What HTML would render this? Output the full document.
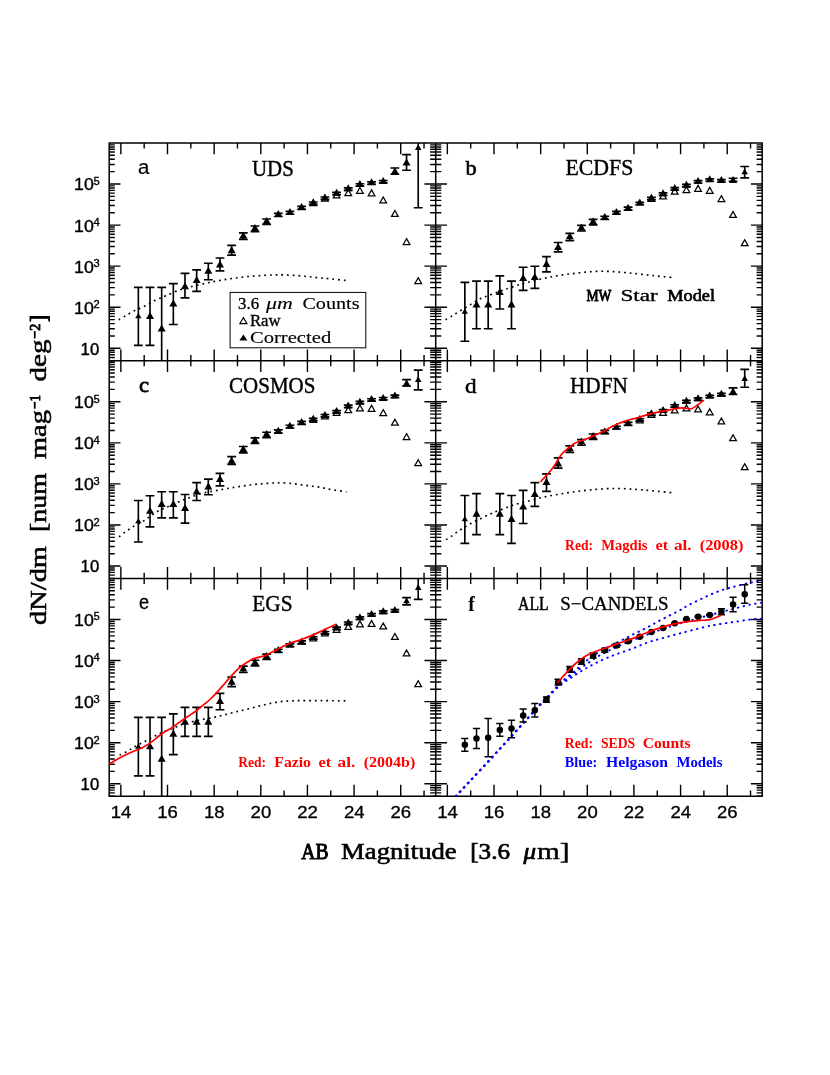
<!DOCTYPE html>
<html><head><meta charset="utf-8"><title>Number counts</title>
<style>html,body{margin:0;padding:0;background:#fff}svg{display:block;will-change:transform}</style></head>
<body>
<svg width="830" height="1075" viewBox="0 0 830 1075">
<rect width="830" height="1075" fill="#fff"/>
<path d="M120.86 142.95v11.3 M120.86 360.68v-11.3 M144.18 142.95v5.6 M144.18 360.68v-5.6 M167.5 142.95v11.3 M167.5 360.68v-11.3 M190.82 142.95v5.6 M190.82 360.68v-5.6 M214.15 142.95v11.3 M214.15 360.68v-11.3 M237.47 142.95v5.6 M237.47 360.68v-5.6 M260.79 142.95v11.3 M260.79 360.68v-11.3 M284.11 142.95v5.6 M284.11 360.68v-5.6 M307.43 142.95v11.3 M307.43 360.68v-11.3 M330.75 142.95v5.6 M330.75 360.68v-5.6 M354.08 142.95v11.3 M354.08 360.68v-11.3 M377.4 142.95v5.6 M377.4 360.68v-5.6 M400.72 142.95v11.3 M400.72 360.68v-11.3 M424.04 142.95v5.6 M424.04 360.68v-5.6 M109.2 360.68h5.6 M435.7 360.68h-5.6 M109.2 357.43h5.6 M435.7 357.43h-5.6 M109.2 354.68h5.6 M435.7 354.68h-5.6 M109.2 352.3h5.6 M435.7 352.3h-5.6 M109.2 350.2h5.6 M435.7 350.2h-5.6 M109.2 348.32h11.3 M435.7 348.32h-11.3 M109.2 335.95h5.6 M435.7 335.95h-5.6 M109.2 328.72h5.6 M435.7 328.72h-5.6 M109.2 323.59h5.6 M435.7 323.59h-5.6 M109.2 319.61h5.6 M435.7 319.61h-5.6 M109.2 316.36h5.6 M435.7 316.36h-5.6 M109.2 313.61h5.6 M435.7 313.61h-5.6 M109.2 311.23h5.6 M435.7 311.23h-5.6 M109.2 309.12h5.6 M435.7 309.12h-5.6 M109.2 307.25h11.3 M435.7 307.25h-11.3 M109.2 294.88h5.6 M435.7 294.88h-5.6 M109.2 287.65h5.6 M435.7 287.65h-5.6 M109.2 282.52h5.6 M435.7 282.52h-5.6 M109.2 278.54h5.6 M435.7 278.54h-5.6 M109.2 275.28h5.6 M435.7 275.28h-5.6 M109.2 272.53h5.6 M435.7 272.53h-5.6 M109.2 270.15h5.6 M435.7 270.15h-5.6 M109.2 268.05h5.6 M435.7 268.05h-5.6 M109.2 266.17h11.3 M435.7 266.17h-11.3 M109.2 253.81h5.6 M435.7 253.81h-5.6 M109.2 246.57h5.6 M435.7 246.57h-5.6 M109.2 241.44h5.6 M435.7 241.44h-5.6 M109.2 237.46h5.6 M435.7 237.46h-5.6 M109.2 234.21h5.6 M435.7 234.21h-5.6 M109.2 231.46h5.6 M435.7 231.46h-5.6 M109.2 229.08h5.6 M435.7 229.08h-5.6 M109.2 226.98h5.6 M435.7 226.98h-5.6 M109.2 225.1h11.3 M435.7 225.1h-11.3 M109.2 212.73h5.6 M435.7 212.73h-5.6 M109.2 205.5h5.6 M435.7 205.5h-5.6 M109.2 200.37h5.6 M435.7 200.37h-5.6 M109.2 196.39h5.6 M435.7 196.39h-5.6 M109.2 193.14h5.6 M435.7 193.14h-5.6 M109.2 190.39h5.6 M435.7 190.39h-5.6 M109.2 188h5.6 M435.7 188h-5.6 M109.2 185.9h5.6 M435.7 185.9h-5.6 M109.2 184.02h11.3 M435.7 184.02h-11.3 M109.2 171.66h5.6 M435.7 171.66h-5.6 M109.2 164.43h5.6 M435.7 164.43h-5.6 M109.2 159.29h5.6 M435.7 159.29h-5.6 M109.2 155.31h5.6 M435.7 155.31h-5.6 M109.2 152.06h5.6 M435.7 152.06h-5.6 M109.2 149.31h5.6 M435.7 149.31h-5.6 M109.2 146.93h5.6 M435.7 146.93h-5.6 M109.2 144.83h5.6 M435.7 144.83h-5.6 M447.36 142.95v11.3 M447.36 360.68v-11.3 M470.68 142.95v5.6 M470.68 360.68v-5.6 M494 142.95v11.3 M494 360.68v-11.3 M517.33 142.95v5.6 M517.33 360.68v-5.6 M540.65 142.95v11.3 M540.65 360.68v-11.3 M563.97 142.95v5.6 M563.97 360.68v-5.6 M587.29 142.95v11.3 M587.29 360.68v-11.3 M610.61 142.95v5.6 M610.61 360.68v-5.6 M633.93 142.95v11.3 M633.93 360.68v-11.3 M657.25 142.95v5.6 M657.25 360.68v-5.6 M680.58 142.95v11.3 M680.58 360.68v-11.3 M703.9 142.95v5.6 M703.9 360.68v-5.6 M727.22 142.95v11.3 M727.22 360.68v-11.3 M750.54 142.95v5.6 M750.54 360.68v-5.6 M435.7 360.68h5.6 M762.2 360.68h-5.6 M435.7 357.43h5.6 M762.2 357.43h-5.6 M435.7 354.68h5.6 M762.2 354.68h-5.6 M435.7 352.3h5.6 M762.2 352.3h-5.6 M435.7 350.2h5.6 M762.2 350.2h-5.6 M435.7 348.32h11.3 M762.2 348.32h-11.3 M435.7 335.95h5.6 M762.2 335.95h-5.6 M435.7 328.72h5.6 M762.2 328.72h-5.6 M435.7 323.59h5.6 M762.2 323.59h-5.6 M435.7 319.61h5.6 M762.2 319.61h-5.6 M435.7 316.36h5.6 M762.2 316.36h-5.6 M435.7 313.61h5.6 M762.2 313.61h-5.6 M435.7 311.23h5.6 M762.2 311.23h-5.6 M435.7 309.12h5.6 M762.2 309.12h-5.6 M435.7 307.25h11.3 M762.2 307.25h-11.3 M435.7 294.88h5.6 M762.2 294.88h-5.6 M435.7 287.65h5.6 M762.2 287.65h-5.6 M435.7 282.52h5.6 M762.2 282.52h-5.6 M435.7 278.54h5.6 M762.2 278.54h-5.6 M435.7 275.28h5.6 M762.2 275.28h-5.6 M435.7 272.53h5.6 M762.2 272.53h-5.6 M435.7 270.15h5.6 M762.2 270.15h-5.6 M435.7 268.05h5.6 M762.2 268.05h-5.6 M435.7 266.17h11.3 M762.2 266.17h-11.3 M435.7 253.81h5.6 M762.2 253.81h-5.6 M435.7 246.57h5.6 M762.2 246.57h-5.6 M435.7 241.44h5.6 M762.2 241.44h-5.6 M435.7 237.46h5.6 M762.2 237.46h-5.6 M435.7 234.21h5.6 M762.2 234.21h-5.6 M435.7 231.46h5.6 M762.2 231.46h-5.6 M435.7 229.08h5.6 M762.2 229.08h-5.6 M435.7 226.98h5.6 M762.2 226.98h-5.6 M435.7 225.1h11.3 M762.2 225.1h-11.3 M435.7 212.73h5.6 M762.2 212.73h-5.6 M435.7 205.5h5.6 M762.2 205.5h-5.6 M435.7 200.37h5.6 M762.2 200.37h-5.6 M435.7 196.39h5.6 M762.2 196.39h-5.6 M435.7 193.14h5.6 M762.2 193.14h-5.6 M435.7 190.39h5.6 M762.2 190.39h-5.6 M435.7 188h5.6 M762.2 188h-5.6 M435.7 185.9h5.6 M762.2 185.9h-5.6 M435.7 184.02h11.3 M762.2 184.02h-11.3 M435.7 171.66h5.6 M762.2 171.66h-5.6 M435.7 164.43h5.6 M762.2 164.43h-5.6 M435.7 159.29h5.6 M762.2 159.29h-5.6 M435.7 155.31h5.6 M762.2 155.31h-5.6 M435.7 152.06h5.6 M762.2 152.06h-5.6 M435.7 149.31h5.6 M762.2 149.31h-5.6 M435.7 146.93h5.6 M762.2 146.93h-5.6 M435.7 144.83h5.6 M762.2 144.83h-5.6 M120.86 360.68v11.3 M120.86 578.42v-11.3 M144.18 360.68v5.6 M144.18 578.42v-5.6 M167.5 360.68v11.3 M167.5 578.42v-11.3 M190.82 360.68v5.6 M190.82 578.42v-5.6 M214.15 360.68v11.3 M214.15 578.42v-11.3 M237.47 360.68v5.6 M237.47 578.42v-5.6 M260.79 360.68v11.3 M260.79 578.42v-11.3 M284.11 360.68v5.6 M284.11 578.42v-5.6 M307.43 360.68v11.3 M307.43 578.42v-11.3 M330.75 360.68v5.6 M330.75 578.42v-5.6 M354.08 360.68v11.3 M354.08 578.42v-11.3 M377.4 360.68v5.6 M377.4 578.42v-5.6 M400.72 360.68v11.3 M400.72 578.42v-11.3 M424.04 360.68v5.6 M424.04 578.42v-5.6 M109.2 578.42h5.6 M435.7 578.42h-5.6 M109.2 575.16h5.6 M435.7 575.16h-5.6 M109.2 572.41h5.6 M435.7 572.41h-5.6 M109.2 570.03h5.6 M435.7 570.03h-5.6 M109.2 567.93h5.6 M435.7 567.93h-5.6 M109.2 566.05h11.3 M435.7 566.05h-11.3 M109.2 553.69h5.6 M435.7 553.69h-5.6 M109.2 546.46h5.6 M435.7 546.46h-5.6 M109.2 541.32h5.6 M435.7 541.32h-5.6 M109.2 537.34h5.6 M435.7 537.34h-5.6 M109.2 534.09h5.6 M435.7 534.09h-5.6 M109.2 531.34h5.6 M435.7 531.34h-5.6 M109.2 528.96h5.6 M435.7 528.96h-5.6 M109.2 526.86h5.6 M435.7 526.86h-5.6 M109.2 524.98h11.3 M435.7 524.98h-11.3 M109.2 512.61h5.6 M435.7 512.61h-5.6 M109.2 505.38h5.6 M435.7 505.38h-5.6 M109.2 500.25h5.6 M435.7 500.25h-5.6 M109.2 496.27h5.6 M435.7 496.27h-5.6 M109.2 493.02h5.6 M435.7 493.02h-5.6 M109.2 490.27h5.6 M435.7 490.27h-5.6 M109.2 487.89h5.6 M435.7 487.89h-5.6 M109.2 485.78h5.6 M435.7 485.78h-5.6 M109.2 483.9h11.3 M435.7 483.9h-11.3 M109.2 471.54h5.6 M435.7 471.54h-5.6 M109.2 464.31h5.6 M435.7 464.31h-5.6 M109.2 459.18h5.6 M435.7 459.18h-5.6 M109.2 455.2h5.6 M435.7 455.2h-5.6 M109.2 451.94h5.6 M435.7 451.94h-5.6 M109.2 449.19h5.6 M435.7 449.19h-5.6 M109.2 446.81h5.6 M435.7 446.81h-5.6 M109.2 444.71h5.6 M435.7 444.71h-5.6 M109.2 442.83h11.3 M435.7 442.83h-11.3 M109.2 430.47h5.6 M435.7 430.47h-5.6 M109.2 423.23h5.6 M435.7 423.23h-5.6 M109.2 418.1h5.6 M435.7 418.1h-5.6 M109.2 414.12h5.6 M435.7 414.12h-5.6 M109.2 410.87h5.6 M435.7 410.87h-5.6 M109.2 408.12h5.6 M435.7 408.12h-5.6 M109.2 405.74h5.6 M435.7 405.74h-5.6 M109.2 403.64h5.6 M435.7 403.64h-5.6 M109.2 401.76h11.3 M435.7 401.76h-11.3 M109.2 389.39h5.6 M435.7 389.39h-5.6 M109.2 382.16h5.6 M435.7 382.16h-5.6 M109.2 377.03h5.6 M435.7 377.03h-5.6 M109.2 373.05h5.6 M435.7 373.05h-5.6 M109.2 369.8h5.6 M435.7 369.8h-5.6 M109.2 367.05h5.6 M435.7 367.05h-5.6 M109.2 364.66h5.6 M435.7 364.66h-5.6 M109.2 362.56h5.6 M435.7 362.56h-5.6 M447.36 360.68v11.3 M447.36 578.42v-11.3 M470.68 360.68v5.6 M470.68 578.42v-5.6 M494 360.68v11.3 M494 578.42v-11.3 M517.33 360.68v5.6 M517.33 578.42v-5.6 M540.65 360.68v11.3 M540.65 578.42v-11.3 M563.97 360.68v5.6 M563.97 578.42v-5.6 M587.29 360.68v11.3 M587.29 578.42v-11.3 M610.61 360.68v5.6 M610.61 578.42v-5.6 M633.93 360.68v11.3 M633.93 578.42v-11.3 M657.25 360.68v5.6 M657.25 578.42v-5.6 M680.58 360.68v11.3 M680.58 578.42v-11.3 M703.9 360.68v5.6 M703.9 578.42v-5.6 M727.22 360.68v11.3 M727.22 578.42v-11.3 M750.54 360.68v5.6 M750.54 578.42v-5.6 M435.7 578.42h5.6 M762.2 578.42h-5.6 M435.7 575.16h5.6 M762.2 575.16h-5.6 M435.7 572.41h5.6 M762.2 572.41h-5.6 M435.7 570.03h5.6 M762.2 570.03h-5.6 M435.7 567.93h5.6 M762.2 567.93h-5.6 M435.7 566.05h11.3 M762.2 566.05h-11.3 M435.7 553.69h5.6 M762.2 553.69h-5.6 M435.7 546.46h5.6 M762.2 546.46h-5.6 M435.7 541.32h5.6 M762.2 541.32h-5.6 M435.7 537.34h5.6 M762.2 537.34h-5.6 M435.7 534.09h5.6 M762.2 534.09h-5.6 M435.7 531.34h5.6 M762.2 531.34h-5.6 M435.7 528.96h5.6 M762.2 528.96h-5.6 M435.7 526.86h5.6 M762.2 526.86h-5.6 M435.7 524.98h11.3 M762.2 524.98h-11.3 M435.7 512.61h5.6 M762.2 512.61h-5.6 M435.7 505.38h5.6 M762.2 505.38h-5.6 M435.7 500.25h5.6 M762.2 500.25h-5.6 M435.7 496.27h5.6 M762.2 496.27h-5.6 M435.7 493.02h5.6 M762.2 493.02h-5.6 M435.7 490.27h5.6 M762.2 490.27h-5.6 M435.7 487.89h5.6 M762.2 487.89h-5.6 M435.7 485.78h5.6 M762.2 485.78h-5.6 M435.7 483.9h11.3 M762.2 483.9h-11.3 M435.7 471.54h5.6 M762.2 471.54h-5.6 M435.7 464.31h5.6 M762.2 464.31h-5.6 M435.7 459.18h5.6 M762.2 459.18h-5.6 M435.7 455.2h5.6 M762.2 455.2h-5.6 M435.7 451.94h5.6 M762.2 451.94h-5.6 M435.7 449.19h5.6 M762.2 449.19h-5.6 M435.7 446.81h5.6 M762.2 446.81h-5.6 M435.7 444.71h5.6 M762.2 444.71h-5.6 M435.7 442.83h11.3 M762.2 442.83h-11.3 M435.7 430.47h5.6 M762.2 430.47h-5.6 M435.7 423.23h5.6 M762.2 423.23h-5.6 M435.7 418.1h5.6 M762.2 418.1h-5.6 M435.7 414.12h5.6 M762.2 414.12h-5.6 M435.7 410.87h5.6 M762.2 410.87h-5.6 M435.7 408.12h5.6 M762.2 408.12h-5.6 M435.7 405.74h5.6 M762.2 405.74h-5.6 M435.7 403.64h5.6 M762.2 403.64h-5.6 M435.7 401.76h11.3 M762.2 401.76h-11.3 M435.7 389.39h5.6 M762.2 389.39h-5.6 M435.7 382.16h5.6 M762.2 382.16h-5.6 M435.7 377.03h5.6 M762.2 377.03h-5.6 M435.7 373.05h5.6 M762.2 373.05h-5.6 M435.7 369.8h5.6 M762.2 369.8h-5.6 M435.7 367.05h5.6 M762.2 367.05h-5.6 M435.7 364.66h5.6 M762.2 364.66h-5.6 M435.7 362.56h5.6 M762.2 362.56h-5.6 M120.86 578.42v11.3 M120.86 796.15v-11.3 M144.18 578.42v5.6 M144.18 796.15v-5.6 M167.5 578.42v11.3 M167.5 796.15v-11.3 M190.82 578.42v5.6 M190.82 796.15v-5.6 M214.15 578.42v11.3 M214.15 796.15v-11.3 M237.47 578.42v5.6 M237.47 796.15v-5.6 M260.79 578.42v11.3 M260.79 796.15v-11.3 M284.11 578.42v5.6 M284.11 796.15v-5.6 M307.43 578.42v11.3 M307.43 796.15v-11.3 M330.75 578.42v5.6 M330.75 796.15v-5.6 M354.08 578.42v11.3 M354.08 796.15v-11.3 M377.4 578.42v5.6 M377.4 796.15v-5.6 M400.72 578.42v11.3 M400.72 796.15v-11.3 M424.04 578.42v5.6 M424.04 796.15v-5.6 M109.2 796.15h5.6 M435.7 796.15h-5.6 M109.2 792.9h5.6 M435.7 792.9h-5.6 M109.2 790.15h5.6 M435.7 790.15h-5.6 M109.2 787.77h5.6 M435.7 787.77h-5.6 M109.2 785.66h5.6 M435.7 785.66h-5.6 M109.2 783.79h11.3 M435.7 783.79h-11.3 M109.2 771.42h5.6 M435.7 771.42h-5.6 M109.2 764.19h5.6 M435.7 764.19h-5.6 M109.2 759.06h5.6 M435.7 759.06h-5.6 M109.2 755.08h5.6 M435.7 755.08h-5.6 M109.2 751.82h5.6 M435.7 751.82h-5.6 M109.2 749.07h5.6 M435.7 749.07h-5.6 M109.2 746.69h5.6 M435.7 746.69h-5.6 M109.2 744.59h5.6 M435.7 744.59h-5.6 M109.2 742.71h11.3 M435.7 742.71h-11.3 M109.2 730.35h5.6 M435.7 730.35h-5.6 M109.2 723.11h5.6 M435.7 723.11h-5.6 M109.2 717.98h5.6 M435.7 717.98h-5.6 M109.2 714h5.6 M435.7 714h-5.6 M109.2 710.75h5.6 M435.7 710.75h-5.6 M109.2 708h5.6 M435.7 708h-5.6 M109.2 705.62h5.6 M435.7 705.62h-5.6 M109.2 703.52h5.6 M435.7 703.52h-5.6 M109.2 701.64h11.3 M435.7 701.64h-11.3 M109.2 689.27h5.6 M435.7 689.27h-5.6 M109.2 682.04h5.6 M435.7 682.04h-5.6 M109.2 676.91h5.6 M435.7 676.91h-5.6 M109.2 672.93h5.6 M435.7 672.93h-5.6 M109.2 669.68h5.6 M435.7 669.68h-5.6 M109.2 666.93h5.6 M435.7 666.93h-5.6 M109.2 664.54h5.6 M435.7 664.54h-5.6 M109.2 662.44h5.6 M435.7 662.44h-5.6 M109.2 660.56h11.3 M435.7 660.56h-11.3 M109.2 648.2h5.6 M435.7 648.2h-5.6 M109.2 640.97h5.6 M435.7 640.97h-5.6 M109.2 635.84h5.6 M435.7 635.84h-5.6 M109.2 631.85h5.6 M435.7 631.85h-5.6 M109.2 628.6h5.6 M435.7 628.6h-5.6 M109.2 625.85h5.6 M435.7 625.85h-5.6 M109.2 623.47h5.6 M435.7 623.47h-5.6 M109.2 621.37h5.6 M435.7 621.37h-5.6 M109.2 619.49h11.3 M435.7 619.49h-11.3 M109.2 607.13h5.6 M435.7 607.13h-5.6 M109.2 599.89h5.6 M435.7 599.89h-5.6 M109.2 594.76h5.6 M435.7 594.76h-5.6 M109.2 590.78h5.6 M435.7 590.78h-5.6 M109.2 587.53h5.6 M435.7 587.53h-5.6 M109.2 584.78h5.6 M435.7 584.78h-5.6 M109.2 582.4h5.6 M435.7 582.4h-5.6 M109.2 580.3h5.6 M435.7 580.3h-5.6 M447.36 578.42v11.3 M447.36 796.15v-11.3 M470.68 578.42v5.6 M470.68 796.15v-5.6 M494 578.42v11.3 M494 796.15v-11.3 M517.33 578.42v5.6 M517.33 796.15v-5.6 M540.65 578.42v11.3 M540.65 796.15v-11.3 M563.97 578.42v5.6 M563.97 796.15v-5.6 M587.29 578.42v11.3 M587.29 796.15v-11.3 M610.61 578.42v5.6 M610.61 796.15v-5.6 M633.93 578.42v11.3 M633.93 796.15v-11.3 M657.25 578.42v5.6 M657.25 796.15v-5.6 M680.58 578.42v11.3 M680.58 796.15v-11.3 M703.9 578.42v5.6 M703.9 796.15v-5.6 M727.22 578.42v11.3 M727.22 796.15v-11.3 M750.54 578.42v5.6 M750.54 796.15v-5.6 M435.7 796.15h5.6 M762.2 796.15h-5.6 M435.7 792.9h5.6 M762.2 792.9h-5.6 M435.7 790.15h5.6 M762.2 790.15h-5.6 M435.7 787.77h5.6 M762.2 787.77h-5.6 M435.7 785.66h5.6 M762.2 785.66h-5.6 M435.7 783.79h11.3 M762.2 783.79h-11.3 M435.7 771.42h5.6 M762.2 771.42h-5.6 M435.7 764.19h5.6 M762.2 764.19h-5.6 M435.7 759.06h5.6 M762.2 759.06h-5.6 M435.7 755.08h5.6 M762.2 755.08h-5.6 M435.7 751.82h5.6 M762.2 751.82h-5.6 M435.7 749.07h5.6 M762.2 749.07h-5.6 M435.7 746.69h5.6 M762.2 746.69h-5.6 M435.7 744.59h5.6 M762.2 744.59h-5.6 M435.7 742.71h11.3 M762.2 742.71h-11.3 M435.7 730.35h5.6 M762.2 730.35h-5.6 M435.7 723.11h5.6 M762.2 723.11h-5.6 M435.7 717.98h5.6 M762.2 717.98h-5.6 M435.7 714h5.6 M762.2 714h-5.6 M435.7 710.75h5.6 M762.2 710.75h-5.6 M435.7 708h5.6 M762.2 708h-5.6 M435.7 705.62h5.6 M762.2 705.62h-5.6 M435.7 703.52h5.6 M762.2 703.52h-5.6 M435.7 701.64h11.3 M762.2 701.64h-11.3 M435.7 689.27h5.6 M762.2 689.27h-5.6 M435.7 682.04h5.6 M762.2 682.04h-5.6 M435.7 676.91h5.6 M762.2 676.91h-5.6 M435.7 672.93h5.6 M762.2 672.93h-5.6 M435.7 669.68h5.6 M762.2 669.68h-5.6 M435.7 666.93h5.6 M762.2 666.93h-5.6 M435.7 664.54h5.6 M762.2 664.54h-5.6 M435.7 662.44h5.6 M762.2 662.44h-5.6 M435.7 660.56h11.3 M762.2 660.56h-11.3 M435.7 648.2h5.6 M762.2 648.2h-5.6 M435.7 640.97h5.6 M762.2 640.97h-5.6 M435.7 635.84h5.6 M762.2 635.84h-5.6 M435.7 631.85h5.6 M762.2 631.85h-5.6 M435.7 628.6h5.6 M762.2 628.6h-5.6 M435.7 625.85h5.6 M762.2 625.85h-5.6 M435.7 623.47h5.6 M762.2 623.47h-5.6 M435.7 621.37h5.6 M762.2 621.37h-5.6 M435.7 619.49h11.3 M762.2 619.49h-11.3 M435.7 607.13h5.6 M762.2 607.13h-5.6 M435.7 599.89h5.6 M762.2 599.89h-5.6 M435.7 594.76h5.6 M762.2 594.76h-5.6 M435.7 590.78h5.6 M762.2 590.78h-5.6 M435.7 587.53h5.6 M762.2 587.53h-5.6 M435.7 584.78h5.6 M762.2 584.78h-5.6 M435.7 582.4h5.6 M762.2 582.4h-5.6 M435.7 580.3h5.6 M762.2 580.3h-5.6" stroke="#000" stroke-width="1.4" fill="none"/>
<path d="M109.2 142.95H762.2V796.15H109.2Z M435.7 142.95V796.15 M109.2 360.68H762.2 M109.2 578.42H762.2" stroke="#000" stroke-width="1.5" fill="none" stroke-linejoin="miter"/>
<defs>
<clipPath id="cpa"><rect x="109.2" y="142.95" width="326.5" height="217.73"/></clipPath>
<clipPath id="cpb"><rect x="435.7" y="142.95" width="326.5" height="217.73"/></clipPath>
<clipPath id="cpc"><rect x="109.2" y="360.68" width="326.5" height="217.73"/></clipPath>
<clipPath id="cpd"><rect x="435.7" y="360.68" width="326.5" height="217.73"/></clipPath>
<clipPath id="cpe"><rect x="109.2" y="578.42" width="326.5" height="217.73"/></clipPath>
<clipPath id="cpf"><rect x="435.7" y="578.42" width="326.5" height="217.73"/></clipPath>
</defs>
<path d="M118.8 319.8C120 319.08 123.42 317.02 126 315.5C128.58 313.98 132.07 311.85 134.3 310.7C136.53 309.55 137.65 309.38 139.4 308.6C141.15 307.82 143 306.92 144.8 306C146.6 305.08 148.45 304.05 150.2 303.1C151.95 302.15 153.55 301.17 155.3 300.3C157.05 299.43 158.97 298.65 160.7 297.9C162.43 297.15 162.77 297.03 165.7 295.8C168.63 294.57 174.28 291.95 178.3 290.5C182.32 289.05 185.22 288.32 189.8 287.1C194.38 285.88 201.23 284.23 205.8 283.2C210.37 282.17 213.38 281.6 217.2 280.9C221.02 280.2 224.88 279.58 228.7 279C232.52 278.42 236.28 277.85 240.1 277.4C243.92 276.95 247.78 276.63 251.6 276.3C255.42 275.97 259.18 275.63 263 275.4C266.82 275.17 270.87 274.98 274.5 274.9C278.13 274.82 280.98 274.78 284.8 274.9C288.62 275.02 293.4 275.3 297.4 275.6C301.4 275.9 304.98 276.32 308.8 276.7C312.62 277.08 316.48 277.52 320.3 277.9C324.12 278.28 327.45 278.58 331.7 279C335.95 279.42 343.45 280.17 345.8 280.4" stroke="#000" stroke-width="1.65" fill="none" stroke-dasharray="1.8 3.9"/>
<path d="M445.6 319.7C446.48 319.18 449.2 317.63 450.9 316.6C452.6 315.57 454.1 314.57 455.8 313.5C457.5 312.43 459.42 311.22 461.1 310.2C462.78 309.18 464.22 308.42 465.9 307.4C467.58 306.38 469.52 305.13 471.2 304.1C472.88 303.07 474.4 302.12 476 301.2C477.6 300.28 479.12 299.4 480.8 298.6C482.48 297.8 484.18 297.13 486.1 296.4C488.02 295.67 489.98 295.07 492.3 294.2C494.62 293.33 497.72 292.03 500 291.2C502.28 290.37 503.08 290.2 506 289.2C508.92 288.2 513.68 286.4 517.5 285.2C521.32 284 524.7 283.1 528.9 282C533.1 280.9 538.5 279.55 542.7 278.6C546.9 277.65 550.3 276.98 554.1 276.3C557.9 275.62 561.68 275.03 565.5 274.5C569.32 273.97 573.18 273.53 577 273.1C580.82 272.67 584.58 272.2 588.4 271.9C592.22 271.6 596.08 271.37 599.9 271.3C603.72 271.23 607.48 271.32 611.3 271.5C615.12 271.68 618.98 272.07 622.8 272.4C626.62 272.73 630.38 273.12 634.2 273.5C638.02 273.88 641.88 274.27 645.7 274.7C649.52 275.13 652.67 275.63 657.1 276.1C661.53 276.57 669.77 277.27 672.3 277.5" stroke="#000" stroke-width="1.65" fill="none" stroke-dasharray="1.8 3.9"/>
<path d="M119.1 536.9C119.9 536.23 122.28 534.13 123.9 532.9C125.52 531.67 127.18 530.58 128.8 529.5C130.42 528.42 131.28 527.73 133.6 526.4C135.92 525.07 140.37 522.88 142.7 521.5C145.03 520.12 145.98 519.25 147.6 518.1C149.22 516.95 150.72 515.73 152.4 514.6C154.08 513.47 156.02 512.23 157.7 511.3C159.38 510.37 160.82 509.75 162.5 509C164.18 508.25 165.15 507.97 167.8 506.8C170.45 505.63 175.75 503.17 178.4 502C181.05 500.83 181.9 500.5 183.7 499.8C185.5 499.1 186.4 498.82 189.2 497.8C192 496.78 196.57 494.8 200.5 493.7C204.43 492.6 209.05 491.95 212.8 491.2C216.55 490.45 219.58 489.82 223 489.2C226.42 488.58 229.88 488.05 233.3 487.5C236.72 486.95 240.1 486.4 243.5 485.9C246.9 485.4 250.28 484.88 253.7 484.5C257.12 484.12 260.58 483.85 264 483.6C267.42 483.35 271.47 483.13 274.2 483C276.93 482.87 277.67 482.73 280.4 482.8C283.13 482.87 287.18 483.08 290.6 483.4C294.02 483.72 297.48 484.25 300.9 484.7C304.32 485.15 307.7 485.63 311.1 486.1C314.5 486.57 317.88 486.92 321.3 487.5C324.72 488.08 327.4 488.88 331.6 489.6C335.8 490.32 344.02 491.43 346.5 491.8" stroke="#000" stroke-width="1.65" fill="none" stroke-dasharray="1.8 3.9"/>
<path d="M446.1 539.6C446.9 539.12 449.28 537.82 450.9 536.7C452.52 535.58 454.13 534.1 455.8 532.9C457.47 531.7 459.22 530.58 460.9 529.5C462.58 528.42 464.23 527.4 465.9 526.4C467.57 525.4 469.22 524.43 470.9 523.5C472.58 522.57 474.3 521.65 476 520.8C477.7 519.95 479.42 519.23 481.1 518.4C482.78 517.57 484.38 516.6 486.1 515.8C487.82 515 489.63 514.37 491.4 513.6C493.17 512.83 493.88 512.3 496.7 511.2C499.52 510.1 505.48 508.05 508.3 507C511.12 505.95 510.65 505.78 513.6 504.9C516.55 504.02 521.33 502.92 526 501.7C530.67 500.48 536.38 498.8 541.6 497.6C546.82 496.4 552.07 495.43 557.3 494.5C562.53 493.57 567.78 492.73 573 492C578.22 491.27 583.38 490.63 588.6 490.1C593.82 489.57 599.07 489.07 604.3 488.8C609.53 488.53 614.78 488.4 620 488.5C625.22 488.6 630.38 489.03 635.6 489.4C640.82 489.77 645.15 490.13 651.3 490.7C657.45 491.27 668.97 492.45 672.5 492.8" stroke="#000" stroke-width="1.65" fill="none" stroke-dasharray="1.8 3.9"/>
<path d="M119.6 755.1C120.48 754.68 123.22 753.48 124.9 752.6C126.58 751.72 128.1 750.77 129.7 749.8C131.3 748.83 132.82 747.77 134.5 746.8C136.18 745.83 138.07 744.9 139.8 744C141.53 743.1 143.2 742.28 144.9 741.4C146.6 740.52 148.3 739.62 150 738.7C151.7 737.78 153.42 736.78 155.1 735.9C156.78 735.02 158 734.37 160.1 733.4C162.2 732.43 164.97 731.2 167.7 730.1C170.43 729 173.62 727.9 176.5 726.8C179.38 725.7 181.25 724.6 185 723.5C188.75 722.4 194.27 721.2 199 720.2C203.73 719.2 209.2 718.38 213.4 717.5C217.6 716.62 220.58 715.8 224.2 714.9C227.82 714 231.48 713 235.1 712.1C238.72 711.2 242.3 710.4 245.9 709.5C249.5 708.6 253.08 707.6 256.7 706.7C260.32 705.8 263.98 704.9 267.6 704.1C271.22 703.3 274.78 702.42 278.4 701.9C282.02 701.38 285.68 701.22 289.3 701C292.92 700.78 294.68 700.67 300.1 700.6C305.52 700.53 314.15 700.55 321.8 700.6C329.45 700.65 341.97 700.85 346 700.9" stroke="#000" stroke-width="1.65" fill="none" stroke-dasharray="1.8 3.9"/>
<path d="M455.9 796.1C458.35 793.48 464.95 786.45 470.6 780.4C476.25 774.35 483.38 766.73 489.8 759.8C496.22 752.87 502.67 745.85 509.1 738.8C515.53 731.75 523.25 723.17 528.4 717.5C533.55 711.83 536.78 708.27 540 704.8C543.22 701.33 544.37 700.27 547.7 696.7C551.03 693.13 555.53 687.67 560 683.4C564.47 679.13 569.68 675.2 574.5 671.1C579.32 667 584.08 662.42 588.9 658.8C593.72 655.18 598.58 652.17 603.4 649.4C608.22 646.63 612.98 644.62 617.8 642.2C622.62 639.78 627.48 637.32 632.3 634.9C637.12 632.48 641.88 630.22 646.7 627.7C651.52 625.18 655.65 622.72 661.2 619.8C666.75 616.88 675.7 612.5 680 610.2C684.3 607.9 683.23 608 687 606C690.77 604 697.38 600.63 702.6 598.2C707.82 595.77 713.07 593.32 718.3 591.4C723.53 589.48 728.78 588.13 734 586.7C739.22 585.27 744.9 583.87 749.6 582.8C754.3 581.73 760.1 580.72 762.2 580.3" stroke="#00f" stroke-width="1.95" fill="none" stroke-dasharray="0.6 5.3" stroke-linecap="round" clip-path="url(#cpf)"/>
<path d="M540 704.8C541.28 703.48 544.37 700.3 547.7 696.9C551.03 693.5 555.53 688.38 560 684.4C564.47 680.42 569.68 676.65 574.5 673C579.32 669.35 584.08 665.8 588.9 662.5C593.72 659.2 598.58 655.85 603.4 653.2C608.22 650.55 612.98 648.72 617.8 646.6C622.62 644.48 627.48 642.47 632.3 640.5C637.12 638.53 641.88 636.62 646.7 634.8C651.52 632.98 655.65 631.48 661.2 629.6C666.75 627.72 673.1 625.6 680 623.5C686.9 621.4 696.22 618.78 702.6 617C708.98 615.22 713.07 614.18 718.3 612.8C723.53 611.42 728.78 610.03 734 608.7C739.22 607.37 744.9 605.83 749.6 604.8C754.3 603.77 760.1 602.88 762.2 602.5" stroke="#00f" stroke-width="1.95" fill="none" stroke-dasharray="0.6 5.3" stroke-linecap="round" clip-path="url(#cpf)"/>
<path d="M540 704.8C541.28 703.55 544.37 700.52 547.7 697.3C551.03 694.08 555.53 689.15 560 685.5C564.47 681.85 569.68 678.53 574.5 675.4C579.32 672.27 584.08 669.35 588.9 666.7C593.72 664.05 598.58 661.67 603.4 659.5C608.22 657.33 612.98 655.5 617.8 653.7C622.62 651.9 627.48 650.52 632.3 648.7C637.12 646.88 641.88 644.5 646.7 642.8C651.52 641.1 655.65 640.07 661.2 638.5C666.75 636.93 673.1 635.23 680 633.4C686.9 631.57 696.22 629.02 702.6 627.5C708.98 625.98 713.07 625.22 718.3 624.3C723.53 623.38 728.78 622.78 734 622C739.22 621.22 744.9 620.17 749.6 619.6C754.3 619.03 760.1 618.77 762.2 618.6" stroke="#00f" stroke-width="1.95" fill="none" stroke-dasharray="0.6 5.3" stroke-linecap="round" clip-path="url(#cpf)"/>
<path d="M455.9 796.1C458.35 793.48 464.95 786.45 470.6 780.4C476.25 774.35 483.38 766.73 489.8 759.8C496.22 752.87 502.67 745.85 509.1 738.8C515.53 731.75 523.25 723.17 528.4 717.5C533.55 711.83 536.78 708.27 540 704.8C543.22 701.33 546.42 698.05 547.7 696.7" stroke="#00f" stroke-width="2.45" fill="none" stroke-dasharray="0.6 5.3" stroke-linecap="round" clip-path="url(#cpf)"/>
<g clip-path="url(#cpa)"><path d="M313.26 199.75L316.61 205.65L309.91 205.65Z M324.92 195.25L328.27 201.15L321.57 201.15Z M336.58 191.95L339.93 197.85L333.23 197.85Z M348.24 189.65L351.59 195.55L344.89 195.55Z M359.91 187.55L363.26 193.45L356.56 193.45Z M371.57 189.85L374.92 195.75L368.22 195.75Z M383.23 197.05L386.58 202.95L379.88 202.95Z M394.89 210.55L398.24 216.45L391.54 216.45Z M406.55 238.65L409.9 244.55L403.2 244.55Z M418.21 277.65L421.56 283.55L414.86 283.55Z" fill="#fff" stroke="#000" stroke-width="1.25" stroke-linejoin="miter"/><path d="M138.35 287.4V345.3M133.95 287.4h8.8M133.95 345.3h8.8 M150.01 287.4V345.3M145.61 287.4h8.8M145.61 345.3h8.8 M161.67 287.4V361.5M157.27 287.4h8.8M157.27 361.5h8.8 M173.33 283.6V324.5M168.93 283.6h8.8M168.93 324.5h8.8 M184.99 273.4V297.9M180.59 273.4h8.8M180.59 297.9h8.8 M196.66 269.9V291.3M192.26 269.9h8.8M192.26 291.3h8.8 M208.32 263.2V279.7M203.92 263.2h8.8M203.92 279.7h8.8 M219.98 258V270.9M215.58 258h8.8M215.58 270.9h8.8 M231.64 245.4V255.1M227.24 245.4h8.8M227.24 255.1h8.8 M243.3 232.9V239.3M238.9 232.9h8.8M238.9 239.3h8.8 M254.96 226V231.6M250.56 226h8.8M250.56 231.6h8.8 M266.62 219V224.4M262.22 219h8.8M262.22 224.4h8.8 M278.28 213.3V216.5M273.88 213.3h8.8M273.88 216.5h8.8 M289.94 211.4V214.2M285.54 211.4h8.8M285.54 214.2h8.8 M301.6 206.3V209.3M297.2 206.3h8.8M297.2 209.3h8.8 M313.26 202V204.4M308.86 202h8.8M308.86 204.4h8.8 M324.92 197V199.4M320.52 197h8.8M320.52 199.4h8.8 M336.58 192.3V194.7M332.18 192.3h8.8M332.18 194.7h8.8 M348.24 187.9V190.3M343.84 187.9h8.8M343.84 190.3h8.8 M359.91 183.7V186.1M355.51 183.7h8.8M355.51 186.1h8.8 M371.57 181.8V184.2M367.17 181.8h8.8M367.17 184.2h8.8 M383.23 180.5V182.9M378.83 180.5h8.8M378.83 182.9h8.8 M394.89 168V174.2M390.49 168h8.8M390.49 174.2h8.8 M406.55 154.6V170.2M402.15 154.6h8.8M402.15 170.2h8.8 M418.21 141V207.7M413.81 141h8.8M413.81 207.7h8.8" stroke="#000" stroke-width="1.65" fill="none"/><g fill="#000"><path d="M138.35 312.9L141.5 318.3L135.2 318.3Z"/><path d="M150.01 312.1L154.01 319.1L146.01 319.1Z"/><path d="M161.67 324.6L165.67 331.6L157.67 331.6Z"/><path d="M173.33 299.6L177.33 306.6L169.33 306.6Z"/><path d="M184.99 282.2L188.99 289.2L180.99 289.2Z"/><path d="M196.66 276L200.66 283L192.66 283Z"/><path d="M208.32 266.8L212.32 273.8L204.32 273.8Z"/><path d="M219.98 260.6L223.98 267.6L215.98 267.6Z"/><path d="M231.64 246.2L235.64 253.2L227.64 253.2Z"/><path d="M243.3 231.5L247.3 238.5L239.3 238.5Z"/><path d="M254.96 224L258.96 231L250.96 231Z"/><path d="M266.62 216.9L270.62 223.9L262.62 223.9Z"/><path d="M278.28 210.1L282.28 217.1L274.28 217.1Z"/><path d="M289.94 208L293.94 215L285.94 215Z"/><path d="M301.6 203L305.6 210L297.6 210Z"/><path d="M313.26 198.4L317.26 205.4L309.26 205.4Z"/><path d="M324.92 193.4L328.92 200.4L320.92 200.4Z"/><path d="M336.58 188.7L340.58 195.7L332.58 195.7Z"/><path d="M348.24 184.3L352.24 191.3L344.24 191.3Z"/><path d="M359.91 180.1L363.91 187.1L355.91 187.1Z"/><path d="M371.57 178.2L375.57 185.2L367.57 185.2Z"/><path d="M383.23 176.9L387.23 183.9L379.23 183.9Z"/><path d="M394.89 167.3L398.89 174.3L390.89 174.3Z"/><path d="M406.55 158.6L410.55 165.6L402.55 165.6Z"/><path d="M418.21 144.3L421.46 150.1L414.96 150.1Z"/></g></g>
<g clip-path="url(#cpb)"><path d="M651.42 195.45L654.77 201.35L648.07 201.35Z M663.08 192.95L666.43 198.85L659.73 198.85Z M674.74 188.25L678.09 194.15L671.39 194.15Z M686.41 186.65L689.76 192.55L683.06 192.55Z M698.07 185.35L701.42 191.25L694.72 191.25Z M709.73 187.35L713.08 193.25L706.38 193.25Z M721.39 195.65L724.74 201.55L718.04 201.55Z M733.05 211.45L736.4 217.35L729.7 217.35Z M744.71 239.75L748.06 245.65L741.36 245.65Z" fill="#fff" stroke="#000" stroke-width="1.25" stroke-linejoin="miter"/><path d="M464.85 282.4V341.2M460.45 282.4h8.8M460.45 341.2h8.8 M476.51 281.1V328.7M472.11 281.1h8.8M472.11 328.7h8.8 M488.17 281.1V328.7M483.77 281.1h8.8M483.77 328.7h8.8 M499.83 275.9V309M495.43 275.9h8.8M495.43 309h8.8 M511.49 281.1V328.7M507.09 281.1h8.8M507.09 328.7h8.8 M523.16 267.2V290.3M518.76 267.2h8.8M518.76 290.3h8.8 M534.82 266.2V288.4M530.42 266.2h8.8M530.42 288.4h8.8 M546.48 256.6V271.8M542.08 256.6h8.8M542.08 271.8h8.8 M558.14 242.5V251.8M553.74 242.5h8.8M553.74 251.8h8.8 M569.8 233.3V240.6M565.4 233.3h8.8M565.4 240.6h8.8 M581.46 225.4V231M577.06 225.4h8.8M577.06 231h8.8 M593.12 219.4V224.8M588.72 219.4h8.8M588.72 224.8h8.8 M604.78 216.2V219.4M600.38 216.2h8.8M600.38 219.4h8.8 M616.44 211.4V214.2M612.04 211.4h8.8M612.04 214.2h8.8 M628.1 207.1V210.1M623.7 207.1h8.8M623.7 210.1h8.8 M639.76 202.2V204.6M635.36 202.2h8.8M635.36 204.6h8.8 M651.42 197.3V199.7M647.02 197.3h8.8M647.02 199.7h8.8 M663.08 192.9V195.3M658.68 192.9h8.8M658.68 195.3h8.8 M674.74 187.6V190M670.34 187.6h8.8M670.34 190h8.8 M686.41 184.4V186.8M682.01 184.4h8.8M682.01 186.8h8.8 M698.07 180.6V183M693.67 180.6h8.8M693.67 183h8.8 M709.73 178.8V181.2M705.33 178.8h8.8M705.33 181.2h8.8 M721.39 179.6V182M716.99 179.6h8.8M716.99 182h8.8 M733.05 178.2V181.2M728.65 178.2h8.8M728.65 181.2h8.8 M744.71 166.5V177.9M740.31 166.5h8.8M740.31 177.9h8.8" stroke="#000" stroke-width="1.65" fill="none"/><g fill="#000"><path d="M464.85 308.4L468 313.8L461.7 313.8Z"/><path d="M476.51 300.5L480.51 307.5L472.51 307.5Z"/><path d="M488.17 300.5L492.17 307.5L484.17 307.5Z"/><path d="M499.83 288L503.83 295L495.83 295Z"/><path d="M511.49 300.5L515.49 307.5L507.49 307.5Z"/><path d="M523.16 274.1L527.16 281.1L519.16 281.1Z"/><path d="M534.82 273.1L538.82 280.1L530.82 280.1Z"/><path d="M546.48 260L550.48 267L542.48 267Z"/><path d="M558.14 243.1L562.14 250.1L554.14 250.1Z"/><path d="M569.8 232.3L573.8 239.3L565.8 239.3Z"/><path d="M581.46 223.4L585.46 230.4L577.46 230.4Z"/><path d="M593.12 217.3L597.12 224.3L589.12 224.3Z"/><path d="M604.78 213L608.78 220L600.78 220Z"/><path d="M616.44 208L620.44 215L612.44 215Z"/><path d="M628.1 203.8L632.1 210.8L624.1 210.8Z"/><path d="M639.76 198.6L643.76 205.6L635.76 205.6Z"/><path d="M651.42 193.7L655.42 200.7L647.42 200.7Z"/><path d="M663.08 189.3L667.08 196.3L659.08 196.3Z"/><path d="M674.74 184L678.74 191L670.74 191Z"/><path d="M686.41 180.8L690.41 187.8L682.41 187.8Z"/><path d="M698.07 177L702.07 184L694.07 184Z"/><path d="M709.73 175.2L713.73 182.2L705.73 182.2Z"/><path d="M721.39 176L725.39 183L717.39 183Z"/><path d="M733.05 176L737.05 183L729.05 183Z"/><path d="M744.71 168.4L747.96 174.2L741.46 174.2Z"/></g></g>
<g clip-path="url(#cpc)"><path d="M313.26 416.45L316.61 422.35L309.91 422.35Z M324.92 412.95L328.27 418.85L321.57 418.85Z M336.58 409.45L339.93 415.35L333.23 415.35Z M348.24 406.75L351.59 412.65L344.89 412.65Z M359.91 405.05L363.26 410.95L356.56 410.95Z M371.57 405.35L374.92 411.25L368.22 411.25Z M383.23 409.65L386.58 415.55L379.88 415.55Z M394.89 419.25L398.24 425.15L391.54 425.15Z M406.55 433.65L409.9 439.55L403.2 439.55Z M418.21 459.75L421.56 465.65L414.86 465.65Z" fill="#fff" stroke="#000" stroke-width="1.25" stroke-linejoin="miter"/><path d="M138.35 500.5V542M133.95 500.5h8.8M133.95 542h8.8 M150.01 495.7V526.9M145.61 495.7h8.8M145.61 526.9h8.8 M161.67 491.7V517.9M157.27 491.7h8.8M157.27 517.9h8.8 M173.33 491.7V517.9M168.93 491.7h8.8M168.93 517.9h8.8 M184.99 494.5V523.1M180.59 494.5h8.8M180.59 523.1h8.8 M196.66 482.6V500.5M192.26 482.6h8.8M192.26 500.5h8.8 M208.32 479.1V494.7M203.92 479.1h8.8M203.92 494.7h8.8 M219.98 473.3V485.9M215.58 473.3h8.8M215.58 485.9h8.8 M231.64 456.6V464.4M227.24 456.6h8.8M227.24 464.4h8.8 M243.3 446.5V452.9M238.9 446.5h8.8M238.9 452.9h8.8 M254.96 437.9V443.5M250.56 437.9h8.8M250.56 443.5h8.8 M266.62 432.2V437.6M262.22 432.2h8.8M262.22 437.6h8.8 M278.28 429.9V433.1M273.88 429.9h8.8M273.88 433.1h8.8 M289.94 425.2V428M285.54 425.2h8.8M285.54 428h8.8 M301.6 421.3V424.3M297.2 421.3h8.8M297.2 424.3h8.8 M313.26 418.3V420.7M308.86 418.3h8.8M308.86 420.7h8.8 M324.92 414.5V416.9M320.52 414.5h8.8M320.52 416.9h8.8 M336.58 410.6V413M332.18 410.6h8.8M332.18 413h8.8 M348.24 405.1V407.5M343.84 405.1h8.8M343.84 407.5h8.8 M359.91 401.3V403.7M355.51 401.3h8.8M355.51 403.7h8.8 M371.57 398.7V401.1M367.17 398.7h8.8M367.17 401.1h8.8 M383.23 397.5V399.9M378.83 397.5h8.8M378.83 399.9h8.8 M394.89 395.1V397.5M390.49 395.1h8.8M390.49 397.5h8.8 M406.55 379.6V386M402.15 379.6h8.8M402.15 386h8.8 M418.21 370.1V389.8M413.81 370.1h8.8M413.81 389.8h8.8" stroke="#000" stroke-width="1.65" fill="none"/><g fill="#000"><path d="M138.35 517.9L141.5 523.3L135.2 523.3Z"/><path d="M150.01 506.8L154.01 513.8L146.01 513.8Z"/><path d="M161.67 500.1L165.67 507.1L157.67 507.1Z"/><path d="M173.33 500.1L177.33 507.1L169.33 507.1Z"/><path d="M184.99 504L188.99 511L180.99 511Z"/><path d="M196.66 487.6L200.66 494.6L192.66 494.6Z"/><path d="M208.32 482.4L212.32 489.4L204.32 489.4Z"/><path d="M219.98 475L223.98 482L215.98 482Z"/><path d="M231.64 456.7L235.64 463.7L227.64 463.7Z"/><path d="M243.3 444.9L247.3 451.9L239.3 451.9Z"/><path d="M254.96 435.9L258.96 442.9L250.96 442.9Z"/><path d="M266.62 430.1L270.62 437.1L262.62 437.1Z"/><path d="M278.28 426.7L282.28 433.7L274.28 433.7Z"/><path d="M289.94 421.8L293.94 428.8L285.94 428.8Z"/><path d="M301.6 418L305.6 425L297.6 425Z"/><path d="M313.26 414.7L317.26 421.7L309.26 421.7Z"/><path d="M324.92 410.9L328.92 417.9L320.92 417.9Z"/><path d="M336.58 407L340.58 414L332.58 414Z"/><path d="M348.24 401.5L352.24 408.5L344.24 408.5Z"/><path d="M359.91 397.7L363.91 404.7L355.91 404.7Z"/><path d="M371.57 395.1L375.57 402.1L367.57 402.1Z"/><path d="M383.23 393.9L387.23 400.9L379.23 400.9Z"/><path d="M394.89 391.5L398.89 398.5L390.89 398.5Z"/><path d="M406.55 379.4L410.55 386.4L402.55 386.4Z"/><path d="M418.21 376.2L421.46 382L414.96 382Z"/></g></g>
<g clip-path="url(#cpd)"><path d="M639.76 416.85L643.11 422.75L636.41 422.75Z M651.42 411.45L654.77 417.35L648.07 417.35Z M663.08 409.45L666.43 415.35L659.73 415.35Z M674.74 407.05L678.09 412.95L671.39 412.95Z M686.41 404.85L689.76 410.75L683.06 410.75Z M698.07 406.05L701.42 411.95L694.72 411.95Z M709.73 408.85L713.08 414.75L706.38 414.75Z M721.39 418.05L724.74 423.95L718.04 423.95Z M733.05 434.75L736.4 440.65L729.7 440.65Z M744.71 463.75L748.06 469.65L741.36 469.65Z" fill="#fff" stroke="#000" stroke-width="1.25" stroke-linejoin="miter"/><path d="M464.85 495.5V543.3M460.45 495.5h8.8M460.45 543.3h8.8 M476.51 493.6V534.6M472.11 493.6h8.8M472.11 534.6h8.8 M499.83 493.6V534.6M495.43 493.6h8.8M495.43 534.6h8.8 M511.49 495.5V543.3M507.09 495.5h8.8M507.09 543.3h8.8 M523.16 490.3V523.5M518.76 490.3h8.8M518.76 523.5h8.8 M534.82 482.6V506.3M530.42 482.6h8.8M530.42 506.3h8.8 M546.48 473.9V491.3M542.08 473.9h8.8M542.08 491.3h8.8 M558.14 457.9V468.1M553.74 457.9h8.8M553.74 468.1h8.8 M569.8 445.9V452.3M565.4 445.9h8.8M565.4 452.3h8.8 M581.46 439.6V445.2M577.06 439.6h8.8M577.06 445.2h8.8 M593.12 434V439.4M588.72 434h8.8M588.72 439.4h8.8 M604.78 430.4V433.6M600.38 430.4h8.8M600.38 433.6h8.8 M616.44 426.2V429M612.04 426.2h8.8M612.04 429h8.8 M628.1 422.3V425.3M623.7 422.3h8.8M623.7 425.3h8.8 M639.76 418.7V421.1M635.36 418.7h8.8M635.36 421.1h8.8 M651.42 412.9V415.3M647.02 412.9h8.8M647.02 415.3h8.8 M663.08 409.6V412M658.68 409.6h8.8M658.68 412h8.8 M674.74 404.7V407.1M670.34 404.7h8.8M670.34 407.1h8.8 M686.41 400.4V402.8M682.01 400.4h8.8M682.01 402.8h8.8 M698.07 397.9V400.3M693.67 397.9h8.8M693.67 400.3h8.8 M709.73 395.2V397.6M705.33 395.2h8.8M705.33 397.6h8.8 M721.39 393.4V395.8M716.99 393.4h8.8M716.99 395.8h8.8 M733.05 387.8V394.5M728.65 387.8h8.8M728.65 394.5h8.8 M744.71 369.4V387.2M740.31 369.4h8.8M740.31 387.2h8.8" stroke="#000" stroke-width="1.65" fill="none"/><g fill="#000"><path d="M464.85 515.9L468 521.3L461.7 521.3Z"/><path d="M476.51 509.7L480.51 516.7L472.51 516.7Z"/><path d="M499.83 509.7L503.83 516.7L495.83 516.7Z"/><path d="M511.49 515.1L515.49 522.1L507.49 522.1Z"/><path d="M523.16 502.6L527.16 509.6L519.16 509.6Z"/><path d="M534.82 490.1L538.82 497.1L530.82 497.1Z"/><path d="M546.48 477.9L550.48 484.9L542.48 484.9Z"/><path d="M558.14 459.6L562.14 466.6L554.14 466.6Z"/><path d="M569.8 444.3L573.8 451.3L565.8 451.3Z"/><path d="M581.46 437.6L585.46 444.6L577.46 444.6Z"/><path d="M593.12 431.9L597.12 438.9L589.12 438.9Z"/><path d="M604.78 427.2L608.78 434.2L600.78 434.2Z"/><path d="M616.44 422.8L620.44 429.8L612.44 429.8Z"/><path d="M628.1 419L632.1 426L624.1 426Z"/><path d="M639.76 415.1L643.76 422.1L635.76 422.1Z"/><path d="M651.42 409.3L655.42 416.3L647.42 416.3Z"/><path d="M663.08 406L667.08 413L659.08 413Z"/><path d="M674.74 401.1L678.74 408.1L670.74 408.1Z"/><path d="M686.41 396.8L690.41 403.8L682.41 403.8Z"/><path d="M698.07 394.3L702.07 401.3L694.07 401.3Z"/><path d="M709.73 391.6L713.73 398.6L705.73 398.6Z"/><path d="M721.39 389.8L725.39 396.8L717.39 396.8Z"/><path d="M733.05 387.6L737.05 394.6L729.05 394.6Z"/><path d="M744.71 375.2L747.96 381L741.46 381Z"/></g></g>
<g clip-path="url(#cpe)"><path d="M313.26 634.85L316.61 640.75L309.91 640.75Z M324.92 629.95L328.27 635.85L321.57 635.85Z M336.58 626.55L339.93 632.45L333.23 632.45Z M348.24 623.55L351.59 629.45L344.89 629.45Z M359.91 620.85L363.26 626.75L356.56 626.75Z M371.57 620.55L374.92 626.45L368.22 626.45Z M383.23 623.05L386.58 628.95L379.88 628.95Z M394.89 633.55L398.24 639.45L391.54 639.45Z M406.55 649.95L409.9 655.85L403.2 655.85Z M418.21 680.75L421.56 686.65L414.86 686.65Z" fill="#fff" stroke="#000" stroke-width="1.25" stroke-linejoin="miter"/><path d="M138.35 717.4V775.8M133.95 717.4h8.8M133.95 775.8h8.8 M150.01 717.4V775.8M145.61 717.4h8.8M145.61 775.8h8.8 M161.67 717.4V797M157.27 717.4h8.8M157.27 797h8.8 M173.33 713.8V754.6M168.93 713.8h8.8M168.93 754.6h8.8 M184.99 707.4V736.3M180.59 707.4h8.8M180.59 736.3h8.8 M196.66 707.4V736.3M192.26 707.4h8.8M192.26 736.3h8.8 M208.32 707.4V736.3M203.92 707.4h8.8M203.92 736.3h8.8 M219.98 693.3V709.7M215.58 693.3h8.8M215.58 709.7h8.8 M231.64 677V686.6M227.24 677h8.8M227.24 686.6h8.8 M243.3 666.1V672.5M238.9 666.1h8.8M238.9 672.5h8.8 M254.96 660.2V665.8M250.56 660.2h8.8M250.56 665.8h8.8 M266.62 654.1V659.5M262.22 654.1h8.8M262.22 659.5h8.8 M278.28 649.2V652.4M273.88 649.2h8.8M273.88 652.4h8.8 M289.94 643.8V646.6M285.54 643.8h8.8M285.54 646.6h8.8 M301.6 640.8V643.8M297.2 640.8h8.8M297.2 643.8h8.8 M313.26 636.7V639.1M308.86 636.7h8.8M308.86 639.1h8.8 M324.92 631.5V633.9M320.52 631.5h8.8M320.52 633.9h8.8 M336.58 627.1V629.5M332.18 627.1h8.8M332.18 629.5h8.8 M348.24 622V624.4M343.84 622h8.8M343.84 624.4h8.8 M359.91 616.9V619.3M355.51 616.9h8.8M355.51 619.3h8.8 M371.57 613.6V616M367.17 613.6h8.8M367.17 616h8.8 M383.23 610.9V613.3M378.83 610.9h8.8M378.83 613.3h8.8 M394.89 609.6V612M390.49 609.6h8.8M390.49 612h8.8 M406.55 597.6V604.8M402.15 597.6h8.8M402.15 604.8h8.8 M418.21 577V599.3M413.81 577h8.8M413.81 599.3h8.8" stroke="#000" stroke-width="1.65" fill="none"/><g fill="#000"><path d="M138.35 743.4L141.5 748.8L135.2 748.8Z"/><path d="M150.01 742.3L154.01 749.3L146.01 749.3Z"/><path d="M161.67 754.8L165.67 761.8L157.67 761.8Z"/><path d="M173.33 729.7L177.33 736.7L169.33 736.7Z"/><path d="M184.99 717.8L188.99 724.8L180.99 724.8Z"/><path d="M196.66 717.8L200.66 724.8L192.66 724.8Z"/><path d="M208.32 717.8L212.32 724.8L204.32 724.8Z"/><path d="M219.98 697L223.98 704L215.98 704Z"/><path d="M231.64 677.7L235.64 684.7L227.64 684.7Z"/><path d="M243.3 664.5L247.3 671.5L239.3 671.5Z"/><path d="M254.96 658.2L258.96 665.2L250.96 665.2Z"/><path d="M266.62 652L270.62 659L262.62 659Z"/><path d="M278.28 646L282.28 653L274.28 653Z"/><path d="M289.94 640.4L293.94 647.4L285.94 647.4Z"/><path d="M301.6 637.5L305.6 644.5L297.6 644.5Z"/><path d="M313.26 633.1L317.26 640.1L309.26 640.1Z"/><path d="M324.92 627.9L328.92 634.9L320.92 634.9Z"/><path d="M336.58 623.5L340.58 630.5L332.58 630.5Z"/><path d="M348.24 618.4L352.24 625.4L344.24 625.4Z"/><path d="M359.91 613.3L363.91 620.3L355.91 620.3Z"/><path d="M371.57 610L375.57 617L367.57 617Z"/><path d="M383.23 607.3L387.23 614.3L379.23 614.3Z"/><path d="M394.89 606L398.89 613L390.89 613Z"/><path d="M406.55 597.5L409.8 603.3L403.3 603.3Z"/><path d="M418.21 584.1L421.46 589.9L414.96 589.9Z"/></g></g>
<g clip-path="url(#cpf)"><path d="M464.85 738.4V751.3M461.25 738.4h7.2M461.25 751.3h7.2 M476.51 728.6V748.5M472.91 728.6h7.2M472.91 748.5h7.2 M488.17 718.4V756.7M484.57 718.4h7.2M484.57 756.7h7.2 M499.83 723.4V736.3M496.23 723.4h7.2M496.23 736.3h7.2 M511.49 720.3V737.7M507.89 720.3h7.2M507.89 737.7h7.2 M523.16 709V721.9M519.56 709h7.2M519.56 721.9h7.2 M534.82 703.6V717M531.22 703.6h7.2M531.22 717h7.2 M546.48 697V702.2M542.88 697h7.2M542.88 702.2h7.2 M558.14 679.3V685.1M554.54 679.3h7.2M554.54 685.1h7.2 M569.8 666.5V672.3M566.2 666.5h7.2M566.2 672.3h7.2 M581.46 658.8V664.2M577.86 658.8h7.2M577.86 664.2h7.2 M593.12 653.1V657.9M589.52 653.1h7.2M589.52 657.9h7.2 M604.78 648.3V652.3M601.18 648.3h7.2M601.18 652.3h7.2 M616.44 644V647M612.84 644h7.2M612.84 647h7.2 M628.1 640.2V642.2M624.5 640.2h7.2M624.5 642.2h7.2 M639.76 636.45V637.15M636.16 636.45h7.2M636.16 637.15h7.2 M651.42 631.65V632.35M647.82 631.65h7.2M647.82 632.35h7.2 M663.08 627.65V628.35M659.48 627.65h7.2M659.48 628.35h7.2 M674.74 622.85V623.55M671.14 622.85h7.2M671.14 623.55h7.2 M686.41 618.75V619.45M682.81 618.75h7.2M682.81 619.45h7.2 M698.07 616.35V617.05M694.47 616.35h7.2M694.47 617.05h7.2 M709.73 614.55V615.25M706.13 614.55h7.2M706.13 615.25h7.2 M721.39 608.8V614.8M717.79 608.8h7.2M717.79 614.8h7.2 M733.05 597.2V611.8M729.45 597.2h7.2M729.45 611.8h7.2 M744.71 584.7V603.2M741.11 584.7h7.2M741.11 603.2h7.2" stroke="#000" stroke-width="1.5" fill="none"/><g fill="#000"><circle cx="464.85" cy="744.8" r="3.25"/><circle cx="476.51" cy="738.4" r="3.25"/><circle cx="488.17" cy="737.7" r="3.25"/><circle cx="499.83" cy="730" r="3.25"/><circle cx="511.49" cy="728.6" r="3.25"/><circle cx="523.16" cy="715.5" r="3.25"/><circle cx="534.82" cy="710.3" r="3.25"/><circle cx="546.48" cy="699.6" r="3.25"/><circle cx="558.14" cy="682.2" r="3.25"/><circle cx="569.8" cy="669.4" r="3.25"/><circle cx="581.46" cy="661.5" r="3.25"/><circle cx="593.12" cy="655.5" r="3.25"/><circle cx="604.78" cy="650.3" r="3.25"/><circle cx="616.44" cy="645.5" r="3.25"/><circle cx="628.1" cy="641.2" r="3.25"/><circle cx="639.76" cy="636.8" r="3.25"/><circle cx="651.42" cy="632" r="3.25"/><circle cx="663.08" cy="628" r="3.25"/><circle cx="674.74" cy="623.2" r="3.25"/><circle cx="686.41" cy="619.1" r="3.25"/><circle cx="698.07" cy="616.7" r="3.25"/><circle cx="709.73" cy="614.9" r="3.25"/><circle cx="721.39" cy="611.8" r="3.25"/><circle cx="733.05" cy="604.4" r="3.25"/><circle cx="744.71" cy="594.3" r="3.25"/></g></g>
<path d="M540.4 481.9C541.5 480.7 544.88 477.1 547 474.7C549.12 472.3 551.08 470.32 553.1 467.5C555.12 464.68 557.5 460.22 559.1 457.8C560.7 455.38 561.3 454.5 562.7 453C564.1 451.5 565.68 450.3 567.5 448.8C569.32 447.3 571.98 445.1 573.6 444C575.22 442.9 575.6 442.87 577.2 442.2C578.8 441.53 581.2 440.75 583.2 440C585.2 439.25 587.2 438.5 589.2 437.7C591.2 436.9 593.18 436.1 595.2 435.2C597.22 434.3 599.28 433.3 601.3 432.3C603.32 431.3 605.3 430.27 607.3 429.2C609.3 428.13 611.3 426.88 613.3 425.9C615.3 424.92 617.28 424.1 619.3 423.3C621.32 422.5 623.38 421.77 625.4 421.1C627.42 420.43 629.45 419.85 631.4 419.3C633.35 418.75 634.55 418.53 637.1 417.8C639.65 417.07 643.48 415.8 646.7 414.9C649.92 414 653.18 413.13 656.4 412.4C659.62 411.67 662.78 411.13 666 410.5C669.22 409.87 673.13 409.05 675.7 408.6C678.27 408.15 679.48 407.83 681.4 407.8C683.32 407.77 685.43 408.28 687.2 408.4C688.97 408.52 690.23 409.12 692 408.5C693.77 407.88 695.8 406.1 697.8 404.7C699.8 403.3 702.97 400.87 704 400.1" stroke="#f00" stroke-width="1.7" fill="none" stroke-linejoin="round" clip-path="url(#cpd)"/>
<path d="M109.2 764C110.77 763.08 115.75 760.07 118.6 758.5C121.45 756.93 123.08 756.1 126.3 754.6C129.52 753.1 135.17 750.7 137.9 749.5C140.63 748.3 140.68 748.47 142.7 747.4C144.72 746.33 147.58 744.78 150 743.1C152.42 741.42 155.03 738.98 157.2 737.3C159.37 735.62 160.43 734.68 163 733C165.57 731.32 169.27 729.42 172.6 727.2C175.93 724.98 180.27 721.62 183 719.7C185.73 717.78 186.83 717.15 189 715.7C191.17 714.25 193.33 713 196 711C198.67 709 202.5 705.78 205 703.7C207.5 701.62 209 700.42 211 698.5C213 696.58 214.98 694.38 217 692.2C219.02 690.02 221.08 687.7 223.1 685.4C225.12 683.1 227.1 680.67 229.1 678.4C231.1 676.13 233.1 673.8 235.1 671.8C237.1 669.8 239.08 668 241.1 666.4C243.12 664.8 245.18 663.47 247.2 662.2C249.22 660.93 251.2 659.65 253.2 658.8C255.2 657.95 257.2 657.65 259.2 657.1C261.2 656.55 263.18 656.27 265.2 655.5C267.22 654.73 269.28 653.5 271.3 652.5C273.32 651.5 275.3 650.53 277.3 649.5C279.3 648.47 281.3 647.3 283.3 646.3C285.3 645.3 287.28 644.32 289.3 643.5C291.32 642.68 293.38 642.07 295.4 641.4C297.42 640.73 298.62 640.5 301.4 639.5C304.18 638.5 308.38 636.98 312.1 635.4C315.82 633.82 319.68 631.85 323.7 630C327.72 628.15 334.12 625.25 336.2 624.3" stroke="#f00" stroke-width="1.7" fill="none" stroke-linejoin="round" clip-path="url(#cpe)"/>
<path d="M557.5 683.1C557.92 682.55 558.38 681.68 560 679.8C561.62 677.92 564.78 674.35 567.2 671.8C569.62 669.25 572.08 666.7 574.5 664.5C576.92 662.3 579.3 660.32 581.7 658.6C584.1 656.88 586.5 655.43 588.9 654.2C591.3 652.97 593.68 652.12 596.1 651.2C598.52 650.28 599.78 649.97 603.4 648.7C607.02 647.43 612.98 645.28 617.8 643.6C622.62 641.92 627.48 640.4 632.3 638.6C637.12 636.8 641.88 634.67 646.7 632.8C651.52 630.93 656.37 628.93 661.2 627.4C666.03 625.87 671.28 624.57 675.7 623.6C680.12 622.63 683.73 622.13 687.7 621.6C691.67 621.07 695.83 620.73 699.5 620.4C703.17 620.07 706.05 620.45 709.7 619.6C713.35 618.75 719.45 616.02 721.4 615.3" stroke="#f00" stroke-width="1.7" fill="none" stroke-linejoin="round" clip-path="url(#cpf)"/>
<rect x="230.1" y="292.4" width="135.7" height="55.4" fill="#fff" stroke="#000" stroke-width="1"/>
<path d="M243.4 317.6L247 323.6L239.8 323.6Z" fill="#fff" stroke="#000" stroke-width="1.1"/>
<path d="M243.4 334.6L247.4 340.6L239.4 340.6Z" fill="#000"/>
<text transform="translate(238.1 308.6) scale(1.0182 1)" font-family="Liberation Serif, serif" font-size="16.5" stroke="#000" stroke-width="0.33" stroke-linejoin="round">3.6</text>
<text transform="translate(266 308.6) scale(1.3265 1)" font-family="Liberation Serif, serif" font-size="16.5" stroke="#000" stroke-width="0.12" stroke-linejoin="round" font-style="italic">μm</text>
<text transform="translate(302.4 308.6) scale(1.2210 1)" font-family="Liberation Serif, serif" font-size="16.5" stroke="#000" stroke-width="0.13" stroke-linejoin="round">Counts</text>
<text transform="translate(249.9 325.9) scale(1.0182 1)" font-family="Liberation Serif, serif" font-size="16.5" stroke="#000" stroke-width="0.33" stroke-linejoin="round">Raw</text>
<text transform="translate(249.9 343) scale(1.2511 1)" font-family="Liberation Serif, serif" font-size="16.5" stroke="#000" stroke-width="0.12" stroke-linejoin="round">Corrected</text>
<text transform="translate(138 174.1) scale(1.0247 1)" font-family="Liberation Sans, sans-serif" font-size="20" stroke="#000" stroke-width="0.17" stroke-linejoin="round">a</text>
<text transform="translate(465.6 175.3) scale(1.0667 1)" font-family="Liberation Serif, serif" font-size="21" stroke="#000" stroke-width="0.57" stroke-linejoin="round">b</text>
<text transform="translate(139 391.6) scale(1.0342 1)" font-family="Liberation Serif, serif" font-size="22" stroke="#000" stroke-width="0.75" stroke-linejoin="round">c</text>
<text transform="translate(465 393.3) scale(1.1048 1)" font-family="Liberation Serif, serif" font-size="21" stroke="#000" stroke-width="0.52" stroke-linejoin="round">d</text>
<text transform="translate(139 609.4) scale(0.9079 1)" font-family="Liberation Sans, sans-serif" font-size="20" stroke="#000" stroke-width="0.31" stroke-linejoin="round">e</text>
<text transform="translate(468.3 611.2) scale(0.9429 1)" font-family="Liberation Serif, serif" font-size="21" font-weight="bold">f</text>
<text transform="translate(252 175.6) scale(0.9370 1)" font-family="Liberation Serif, serif" font-size="22.3" stroke="#000" stroke-width="0.43" stroke-linejoin="round">UDS</text>
<text transform="translate(565.4 175.3) scale(0.9783 1)" font-family="Liberation Serif, serif" font-size="22.3" stroke="#000" stroke-width="0.38" stroke-linejoin="round">ECDFS</text>
<text transform="translate(229.1 393.3) scale(0.9411 1)" font-family="Liberation Serif, serif" font-size="22.3" stroke="#000" stroke-width="0.43" stroke-linejoin="round">COSMOS</text>
<text transform="translate(570 393.2) scale(0.9536 1)" font-family="Liberation Serif, serif" font-size="22.3" stroke="#000" stroke-width="0.41" stroke-linejoin="round">HDFN</text>
<text transform="translate(252.2 610.8) scale(0.9567 1)" font-family="Liberation Serif, serif" font-size="22.3" stroke="#000" stroke-width="0.41" stroke-linejoin="round">EGS</text>
<text transform="translate(518.1 609.9) scale(0.8580 1)" font-family="Liberation Serif, serif" font-size="18.3" stroke="#000" stroke-width="0.51" stroke-linejoin="round">ALL</text>
<text transform="translate(560.3 609.9) scale(1.0317 1)" font-family="Liberation Serif, serif" font-size="18.3" stroke="#000" stroke-width="0.32" stroke-linejoin="round">S−CANDELS</text>
<text transform="translate(586.4 301.2) scale(0.8524 1)" font-family="Liberation Serif, serif" font-size="16" stroke="#000" stroke-width="0.89" stroke-linejoin="round">MW</text>
<text transform="translate(620.5 301.2) scale(1.4429 1)" font-family="Liberation Serif, serif" font-size="16" stroke="#000" stroke-width="0.32" stroke-linejoin="round">Star</text>
<text transform="translate(667.3 301.2) scale(1.1417 1)" font-family="Liberation Serif, serif" font-size="16" stroke="#000" stroke-width="0.61" stroke-linejoin="round">Model</text>
<text transform="translate(565.1 549.7) scale(0.9838 1)" font-family="Liberation Serif, serif" font-size="13.8" font-weight="bold" fill="#f00">Red:</text>
<text transform="translate(601.3 549.7) scale(1.0548 1)" font-family="Liberation Serif, serif" font-size="13.8" font-weight="bold" fill="#f00">Magdis</text>
<text transform="translate(655.5 549.7) scale(1.1755 1)" font-family="Liberation Serif, serif" font-size="13.8" font-weight="bold" fill="#f00">et</text>
<text transform="translate(673.9 549.7) scale(1.2476 1)" font-family="Liberation Serif, serif" font-size="13.8" font-weight="bold" fill="#f00">al.</text>
<text transform="translate(699.7 549.7) scale(1.1903 1)" font-family="Liberation Serif, serif" font-size="13.8" font-weight="bold" fill="#f00">(2008)</text>
<text transform="translate(238.2 767.3) scale(0.9803 1)" font-family="Liberation Serif, serif" font-size="13.8" font-weight="bold" fill="#f00">Red:</text>
<text transform="translate(274.3 767.3) scale(1.1402 1)" font-family="Liberation Serif, serif" font-size="13.8" font-weight="bold" fill="#f00">Fazio</text>
<text transform="translate(318.6 767.3) scale(1.1848 1)" font-family="Liberation Serif, serif" font-size="13.8" font-weight="bold" fill="#f00">et</text>
<text transform="translate(337.6 767.3) scale(1.2476 1)" font-family="Liberation Serif, serif" font-size="13.8" font-weight="bold" fill="#f00">al.</text>
<text transform="translate(363.7 767.3) scale(1.1604 1)" font-family="Liberation Serif, serif" font-size="13.8" font-weight="bold" fill="#f00">(2004b)</text>
<text transform="translate(564.8 747.8) scale(0.9798 1)" font-family="Liberation Serif, serif" font-size="14" font-weight="bold" fill="#f00">Red:</text>
<text transform="translate(601 747.8) scale(0.9763 1)" font-family="Liberation Serif, serif" font-size="14" font-weight="bold" fill="#f00">SEDS</text>
<text transform="translate(642.8 747.8) scale(1.1146 1)" font-family="Liberation Serif, serif" font-size="14" font-weight="bold" fill="#f00">Counts</text>
<text transform="translate(564.8 766.9) scale(1.0191 1)" font-family="Liberation Serif, serif" font-size="14" font-weight="bold" fill="#00f">Blue:</text>
<text transform="translate(606 766.9) scale(1.1261 1)" font-family="Liberation Serif, serif" font-size="14" font-weight="bold" fill="#00f">Helgason</text>
<text transform="translate(676.4 766.9) scale(1.0605 1)" font-family="Liberation Serif, serif" font-size="14" font-weight="bold" fill="#00f">Models</text>
<text transform="translate(110.66 817.6) scale(1.1719 1)" font-family="Liberation Sans, sans-serif" font-size="15.8" stroke="#000" stroke-width="0.29" stroke-linejoin="round">14</text>
<text transform="translate(157.3 817.6) scale(1.1719 1)" font-family="Liberation Sans, sans-serif" font-size="15.8" stroke="#000" stroke-width="0.29" stroke-linejoin="round">16</text>
<text transform="translate(203.95 817.6) scale(1.1719 1)" font-family="Liberation Sans, sans-serif" font-size="15.8" stroke="#000" stroke-width="0.29" stroke-linejoin="round">18</text>
<text transform="translate(250.59 817.6) scale(1.1719 1)" font-family="Liberation Sans, sans-serif" font-size="15.8" stroke="#000" stroke-width="0.29" stroke-linejoin="round">20</text>
<text transform="translate(297.23 817.6) scale(1.1719 1)" font-family="Liberation Sans, sans-serif" font-size="15.8" stroke="#000" stroke-width="0.29" stroke-linejoin="round">22</text>
<text transform="translate(343.88 817.6) scale(1.1719 1)" font-family="Liberation Sans, sans-serif" font-size="15.8" stroke="#000" stroke-width="0.29" stroke-linejoin="round">24</text>
<text transform="translate(390.52 817.6) scale(1.1719 1)" font-family="Liberation Sans, sans-serif" font-size="15.8" stroke="#000" stroke-width="0.29" stroke-linejoin="round">26</text>
<text transform="translate(437.16 817.6) scale(1.1719 1)" font-family="Liberation Sans, sans-serif" font-size="15.8" stroke="#000" stroke-width="0.29" stroke-linejoin="round">14</text>
<text transform="translate(483.8 817.6) scale(1.1719 1)" font-family="Liberation Sans, sans-serif" font-size="15.8" stroke="#000" stroke-width="0.29" stroke-linejoin="round">16</text>
<text transform="translate(530.45 817.6) scale(1.1719 1)" font-family="Liberation Sans, sans-serif" font-size="15.8" stroke="#000" stroke-width="0.29" stroke-linejoin="round">18</text>
<text transform="translate(577.09 817.6) scale(1.1719 1)" font-family="Liberation Sans, sans-serif" font-size="15.8" stroke="#000" stroke-width="0.29" stroke-linejoin="round">20</text>
<text transform="translate(623.73 817.6) scale(1.1719 1)" font-family="Liberation Sans, sans-serif" font-size="15.8" stroke="#000" stroke-width="0.29" stroke-linejoin="round">22</text>
<text transform="translate(670.38 817.6) scale(1.1719 1)" font-family="Liberation Sans, sans-serif" font-size="15.8" stroke="#000" stroke-width="0.29" stroke-linejoin="round">24</text>
<text transform="translate(717.02 817.6) scale(1.1719 1)" font-family="Liberation Sans, sans-serif" font-size="15.8" stroke="#000" stroke-width="0.29" stroke-linejoin="round">26</text>
<text transform="translate(80.6 354.72) scale(1.0581 1)" font-family="Liberation Sans, sans-serif" font-size="15.8" stroke="#000" stroke-width="0.39" stroke-linejoin="round">10</text>
<text transform="translate(74 313.65) scale(1.1264 1)" font-family="Liberation Sans, sans-serif" font-size="15.8" stroke="#000" stroke-width="0.33" stroke-linejoin="round">10</text>
<text transform="translate(93.6 308.15) scale(1.0812 1)" font-family="Liberation Sans, sans-serif" font-size="10.3" stroke="#000" stroke-width="0.35" stroke-linejoin="round">2</text>
<text transform="translate(74 272.57) scale(1.1264 1)" font-family="Liberation Sans, sans-serif" font-size="15.8" stroke="#000" stroke-width="0.33" stroke-linejoin="round">10</text>
<text transform="translate(93.6 267.07) scale(1.0812 1)" font-family="Liberation Sans, sans-serif" font-size="10.3" stroke="#000" stroke-width="0.35" stroke-linejoin="round">3</text>
<text transform="translate(74 231.5) scale(1.1264 1)" font-family="Liberation Sans, sans-serif" font-size="15.8" stroke="#000" stroke-width="0.33" stroke-linejoin="round">10</text>
<text transform="translate(93.6 226) scale(1.0812 1)" font-family="Liberation Sans, sans-serif" font-size="10.3" stroke="#000" stroke-width="0.35" stroke-linejoin="round">4</text>
<text transform="translate(74 190.42) scale(1.1264 1)" font-family="Liberation Sans, sans-serif" font-size="15.8" stroke="#000" stroke-width="0.33" stroke-linejoin="round">10</text>
<text transform="translate(93.6 184.92) scale(1.0812 1)" font-family="Liberation Sans, sans-serif" font-size="10.3" stroke="#000" stroke-width="0.35" stroke-linejoin="round">5</text>
<text transform="translate(80.6 572.45) scale(1.0581 1)" font-family="Liberation Sans, sans-serif" font-size="15.8" stroke="#000" stroke-width="0.39" stroke-linejoin="round">10</text>
<text transform="translate(74 531.38) scale(1.1264 1)" font-family="Liberation Sans, sans-serif" font-size="15.8" stroke="#000" stroke-width="0.33" stroke-linejoin="round">10</text>
<text transform="translate(93.6 525.88) scale(1.0812 1)" font-family="Liberation Sans, sans-serif" font-size="10.3" stroke="#000" stroke-width="0.35" stroke-linejoin="round">2</text>
<text transform="translate(74 490.3) scale(1.1264 1)" font-family="Liberation Sans, sans-serif" font-size="15.8" stroke="#000" stroke-width="0.33" stroke-linejoin="round">10</text>
<text transform="translate(93.6 484.8) scale(1.0812 1)" font-family="Liberation Sans, sans-serif" font-size="10.3" stroke="#000" stroke-width="0.35" stroke-linejoin="round">3</text>
<text transform="translate(74 449.23) scale(1.1264 1)" font-family="Liberation Sans, sans-serif" font-size="15.8" stroke="#000" stroke-width="0.33" stroke-linejoin="round">10</text>
<text transform="translate(93.6 443.73) scale(1.0812 1)" font-family="Liberation Sans, sans-serif" font-size="10.3" stroke="#000" stroke-width="0.35" stroke-linejoin="round">4</text>
<text transform="translate(74 408.16) scale(1.1264 1)" font-family="Liberation Sans, sans-serif" font-size="15.8" stroke="#000" stroke-width="0.33" stroke-linejoin="round">10</text>
<text transform="translate(93.6 402.66) scale(1.0812 1)" font-family="Liberation Sans, sans-serif" font-size="10.3" stroke="#000" stroke-width="0.35" stroke-linejoin="round">5</text>
<text transform="translate(80.6 790.19) scale(1.0581 1)" font-family="Liberation Sans, sans-serif" font-size="15.8" stroke="#000" stroke-width="0.39" stroke-linejoin="round">10</text>
<text transform="translate(74 749.11) scale(1.1264 1)" font-family="Liberation Sans, sans-serif" font-size="15.8" stroke="#000" stroke-width="0.33" stroke-linejoin="round">10</text>
<text transform="translate(93.6 743.61) scale(1.0812 1)" font-family="Liberation Sans, sans-serif" font-size="10.3" stroke="#000" stroke-width="0.35" stroke-linejoin="round">2</text>
<text transform="translate(74 708.04) scale(1.1264 1)" font-family="Liberation Sans, sans-serif" font-size="15.8" stroke="#000" stroke-width="0.33" stroke-linejoin="round">10</text>
<text transform="translate(93.6 702.54) scale(1.0812 1)" font-family="Liberation Sans, sans-serif" font-size="10.3" stroke="#000" stroke-width="0.35" stroke-linejoin="round">3</text>
<text transform="translate(74 666.96) scale(1.1264 1)" font-family="Liberation Sans, sans-serif" font-size="15.8" stroke="#000" stroke-width="0.33" stroke-linejoin="round">10</text>
<text transform="translate(93.6 661.46) scale(1.0812 1)" font-family="Liberation Sans, sans-serif" font-size="10.3" stroke="#000" stroke-width="0.35" stroke-linejoin="round">4</text>
<text transform="translate(74 625.89) scale(1.1264 1)" font-family="Liberation Sans, sans-serif" font-size="15.8" stroke="#000" stroke-width="0.33" stroke-linejoin="round">10</text>
<text transform="translate(93.6 620.39) scale(1.0812 1)" font-family="Liberation Sans, sans-serif" font-size="10.3" stroke="#000" stroke-width="0.35" stroke-linejoin="round">5</text>
<text transform="translate(301.3 858.6) scale(0.8633 1)" font-family="Liberation Serif, serif" font-size="22.6" stroke="#000" stroke-width="1.04" stroke-linejoin="round">AB</text>
<text transform="translate(341.1 858.6) scale(1.1809 1)" font-family="Liberation Serif, serif" font-size="22.6" stroke="#000" stroke-width="0.6" stroke-linejoin="round">Magnitude</text>
<text transform="translate(470.2 858.6) scale(1.1123 1)" font-family="Liberation Serif, serif" font-size="22.6" stroke="#000" stroke-width="0.7" stroke-linejoin="round">[3.6</text>
<text transform="translate(523.6 858.6) scale(1.1107 1)" font-family="Liberation Serif, serif" font-size="22.6" stroke="#000" stroke-width="0.7" stroke-linejoin="round" font-style="italic">μ</text>
<text transform="translate(537.1 858.6) scale(1.2943 1)" font-family="Liberation Serif, serif" font-size="22.6" stroke="#000" stroke-width="0.45" stroke-linejoin="round">m]</text>
<g transform="translate(46.3 625) rotate(-90)">
<text transform="translate(0 0) scale(1.2101 1)" font-family="Liberation Serif, serif" font-size="23.5" stroke="#000" stroke-width="0.55" stroke-linejoin="round">dN/dm</text>
<text transform="translate(93 0) scale(1.1893 1)" font-family="Liberation Serif, serif" font-size="23.5" stroke="#000" stroke-width="0.58" stroke-linejoin="round">[num</text>
<text transform="translate(166 0) scale(1.2108 1)" font-family="Liberation Serif, serif" font-size="23.5" stroke="#000" stroke-width="0.55" stroke-linejoin="round">mag</text>
<text transform="translate(216 -6.8) scale(0.8657 1)" font-family="Liberation Serif, serif" font-size="15.2" stroke="#000" stroke-width="0.97" stroke-linejoin="round">−1</text>
<text transform="translate(243.5 0) scale(1.2376 1)" font-family="Liberation Serif, serif" font-size="23.5" stroke="#000" stroke-width="0.52" stroke-linejoin="round">deg</text>
<text transform="translate(286.2 -6.8) scale(0.9275 1)" font-family="Liberation Serif, serif" font-size="15.2" stroke="#000" stroke-width="0.92" stroke-linejoin="round">−2</text>
<text transform="translate(303 0) scale(0.8942 1)" font-family="Liberation Serif, serif" font-size="23.5" stroke="#000" stroke-width="1" stroke-linejoin="round">]</text>
</g>
</svg>
</body></html>
